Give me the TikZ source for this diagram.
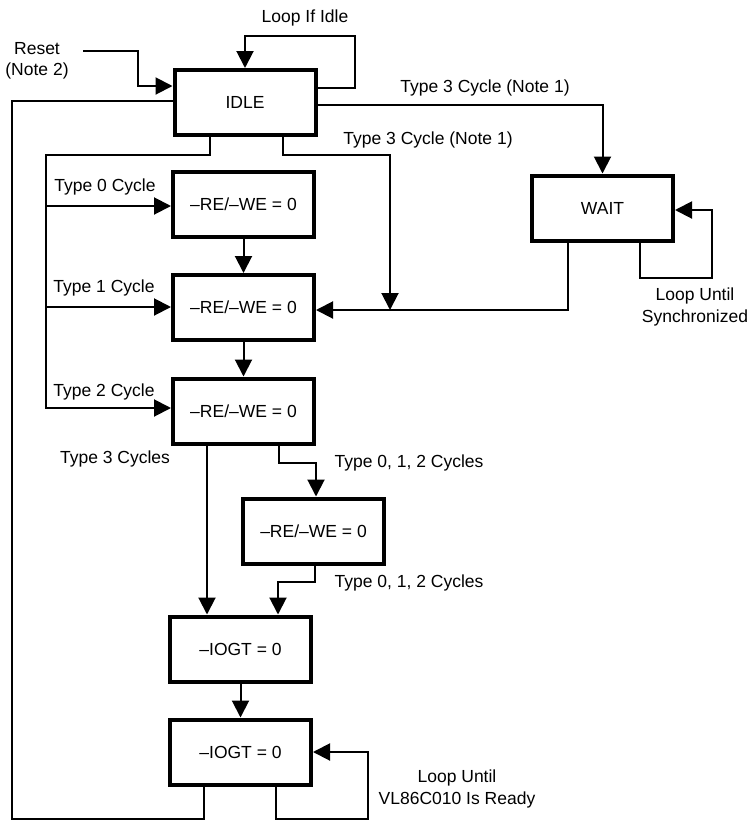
\documentclass[tikz,border=0pt]{standalone}
\usepackage{fontspec}
\setmainfont{Liberation Sans}
\usetikzlibrary{arrows.meta}
\begin{document}
\begin{tikzpicture}[x=1pt,y=-1pt,
  box/.style={draw, line width=4pt, minimum width=141pt, minimum height=65pt, inner sep=0pt, font=\fontsize{17.5}{20}\selectfont},
  lbl/.style={font=\fontsize{17.5}{21.5}\selectfont, align=center, inner sep=0pt},
  conn/.style={line width=2pt},
  arr/.style={conn, -{Triangle[length=17pt,width=17pt]}}]
\useasboundingbox (0,0) rectangle (748,820);

% boxes
\node[box] (idle) at (245,102.5) {IDLE};
\node[box] (wait) at (602.5,208) {WAIT};
\node[box] (b1) at (243.5,204) {–RE/–WE = 0};
\node[box] (b2) at (243.5,307.5) {–RE/–WE = 0};
\node[box] (b3) at (243.5,411) {–RE/–WE = 0};
\node[box] (b4) at (313.5,531) {–RE/–WE = 0};
\node[box] (g1) at (240.5,649) {–IOGT = 0};
\node[box] (g2) at (240.5,752) {–IOGT = 0};

% labels
\node[lbl] (lreset) at (37,61) {Reset\\(Note 2)};
\node[lbl] (lidle) at (305,18) {Loop If Idle};
\node[lbl] (lt3a) at (485,88) {Type 3 Cycle (Note 1)};
\node[lbl] (lt3b) at (428,140) {Type 3 Cycle (Note 1)};
\node[lbl] (lsync) at (695,307) {Loop Until\\Synchronized};
\node[lbl] (lt0) at (105,187) {Type 0 Cycle};
\node[lbl] (lt1) at (104,288) {Type 1 Cycle};
\node[lbl] (lt2) at (104,392) {Type 2 Cycle};
\node[lbl] (lt3c) at (115,459) {Type 3 Cycles};
\node[lbl] (lt012a) at (409,463) {Type 0, 1, 2 Cycles};
\node[lbl] (lt012b) at (409,583) {Type 0, 1, 2 Cycles};
\node[lbl] (lready) at (457,789) {Loop Until\\VL86C010 Is Ready};

% reset
\coordinate (rs) at (83,51);
\draw[arr] (rs) -- (138,51) |- (idle.west |- 0,86);
% loop if idle
\draw[arr] (idle.east |- 0,88) -- (355,88) -- (355,36) -| (idle.north);
% return to idle
\draw[conn] (g2.south -| 204,0) -- (204,819) -- (12,819) -- (12,101) -- (idle.west |- 0,101);
% loop until ready
\draw[arr] (g2.south -| 276,0) -- (276,819) -- (368,819) -- (368,752) -- (g2.east);
% type 3 to wait
\draw[arr] (idle.east |- 0,105) -| (wait.north);
% wait self loop
\draw[arr] (wait.south -| 640,0) -- (640,278) -- (712,278) -- (712,210) -- (wait.east |- 0,210);
% wait to b2
\draw[arr] (wait.south -| 568,0) -- (568,310) -- (b2.east |- 0,310);
% second type 3
\coordinate (j) at (390,310);
\draw[arr] (idle.south -| 283,0) -- (283,155) -| (j);
% left bus
\draw[arr] (idle.south -| 210,0) -- (210,155) -- (46,155) -- (46,408) -- (b3.west |- 0,408);
\draw[arr] (46,206) -- (b1.west |- 0,206);
\draw[arr] (46,307) -- (b2.west |- 0,307);
% chain
\draw[arr] (b1.south) -- (b2.north);
\draw[arr] (b2.south) -- (b3.north);
\draw[arr] (b3.south -| 207,0) -- (g1.north -| 207,0);
\draw[arr] (b3.south -| 279,0) -- (279,463) -- (316,463) -- (b4.north -| 316,0);
\draw[arr] (b4.south -| 315,0) -- (315,582) -- (278,582) -- (g1.north -| 278,0);
\draw[arr] (g1.south) -- (g2.north);
\end{tikzpicture}
\end{document}
